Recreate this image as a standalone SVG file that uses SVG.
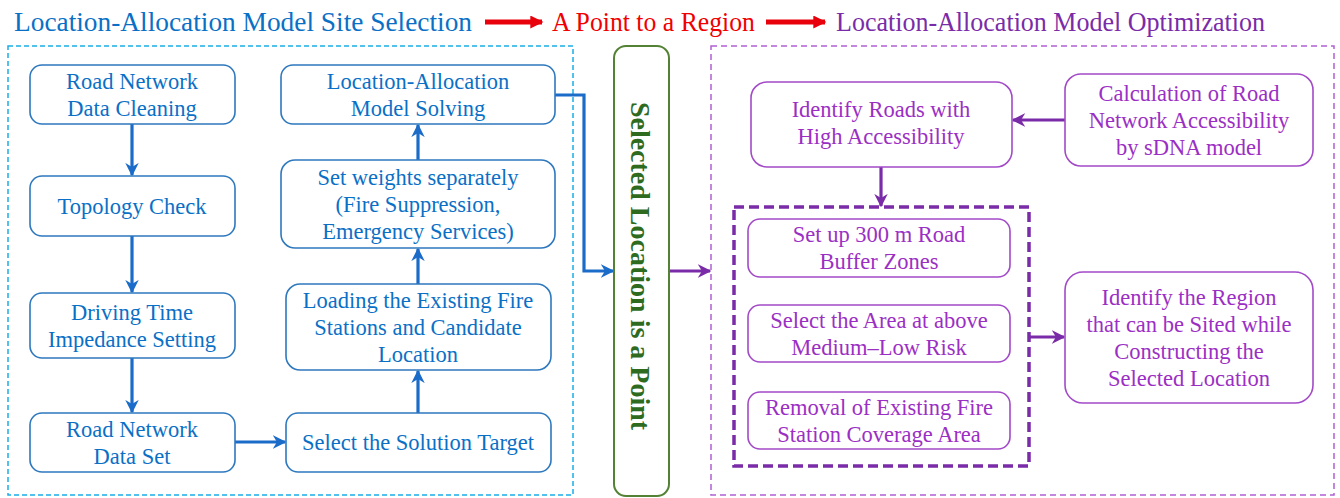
<svg xmlns="http://www.w3.org/2000/svg" width="1340" height="498" viewBox="0 0 1340 498" font-family="'Liberation Serif', serif">
<style>
text{font-family:'Liberation Serif',serif;}
.title{font-size:26.5px;}
.bt{font-size:22.5px;fill:#0A70C6;text-anchor:middle;}
.pt{font-size:22.5px;fill:#9B2FC4;text-anchor:middle;}
.bbox{fill:#fff;stroke:#2E78BE;stroke-width:1.6;}
.pbox{fill:#fff;stroke:#A24AC8;stroke-width:1.6;}
.barrow{fill:none;stroke:#1B6CC8;stroke-width:3.2;}
.parrow{fill:none;stroke:#7A2BA8;stroke-width:3.2;}
</style>
<defs>
<marker id="ab" viewBox="0 0 10 10" refX="9" refY="5" markerWidth="4.2" markerHeight="4.2" orient="auto" markerUnits="strokeWidth">
<path d="M0,0 L10,5 L0,10 L3,5 Z" fill="#1B6CC8"/>
</marker>
<marker id="ap" viewBox="0 0 10 10" refX="9" refY="5" markerWidth="4.2" markerHeight="4.2" orient="auto" markerUnits="strokeWidth">
<path d="M0,0 L10,5 L0,10 L3,5 Z" fill="#7A2BA8"/>
</marker>
<marker id="ar" viewBox="0 0 10 10" refX="9" refY="5" markerWidth="2.6" markerHeight="2.6" orient="auto" markerUnits="strokeWidth">
<path d="M0,0 L10,5 L0,10 Z" fill="#E8000B"/>
</marker>
</defs>
<rect width="1340" height="498" fill="#fff"/>

<g id="titles">
<text class="title" x="14" y="31" fill="#0A70C6" textLength="458" lengthAdjust="spacingAndGlyphs">Location-Allocation Model Site Selection</text>
<text class="title" x="552" y="31" fill="#F00000" textLength="203" lengthAdjust="spacingAndGlyphs">A Point to a Region</text>
<text class="title" x="836" y="31" fill="#7A2BA8" textLength="429" lengthAdjust="spacingAndGlyphs">Location-Allocation Model Optimization</text>
</g>

<g id="frames">
<rect x="8" y="46" width="565" height="449" fill="none" stroke="#1AAEE8" stroke-width="1.5" stroke-dasharray="5,3"/>
<rect x="711" y="46" width="623" height="449" fill="none" stroke="#B060D2" stroke-width="1.5" stroke-dasharray="6,4"/>
<rect x="734" y="207" width="295" height="259" fill="none" stroke="#7A2BA8" stroke-width="3.5" stroke-dasharray="10,5"/>
</g>

<g id="connectors">
<line x1="485" y1="22" x2="542" y2="22" stroke="#E8000B" stroke-width="5" marker-end="url(#ar)"/>
<line x1="766" y1="22" x2="825" y2="22" stroke="#E8000B" stroke-width="5" marker-end="url(#ar)"/>
<line class="barrow" x1="132" y1="124" x2="132" y2="175" marker-end="url(#ab)"/>
<line class="barrow" x1="132" y1="236" x2="132" y2="292" marker-end="url(#ab)"/>
<line class="barrow" x1="132" y1="358" x2="132" y2="412" marker-end="url(#ab)"/>
<line class="barrow" x1="235" y1="442" x2="285" y2="442" marker-end="url(#ab)"/>
<line class="barrow" x1="418" y1="413" x2="418" y2="371" marker-end="url(#ab)"/>
<line class="barrow" x1="418" y1="284" x2="418" y2="249" marker-end="url(#ab)"/>
<line class="barrow" x1="418" y1="160" x2="418" y2="125" marker-end="url(#ab)"/>
<polyline class="barrow" points="555,95 584,95 584,271 613,271" marker-end="url(#ab)"/>
<line class="parrow" x1="669" y1="271" x2="710" y2="271" marker-end="url(#ap)"/>
<line class="parrow" x1="1065" y1="120" x2="1013" y2="120" marker-end="url(#ap)"/>
<line class="parrow" x1="881" y1="167" x2="881" y2="206" marker-end="url(#ap)"/>
<line class="parrow" x1="1030" y1="337" x2="1064" y2="337" marker-end="url(#ap)"/>
</g>

<g id="n1"><rect class="bbox" x="30" y="65" width="205" height="59" rx="12"/>
<text class="bt" x="132" y="89">Road Network</text><text class="bt" x="132" y="115.5">Data Cleaning</text></g>
<g id="n2"><rect class="bbox" x="30" y="176" width="205" height="60" rx="12"/>
<text class="bt" x="132" y="213.5">Topology Check</text></g>
<g id="n3"><rect class="bbox" x="30" y="293" width="205" height="65" rx="12"/>
<text class="bt" x="132" y="320">Driving Time</text><text class="bt" x="132" y="347">Impedance Setting</text></g>
<g id="n4"><rect class="bbox" x="30" y="413" width="205" height="59" rx="12"/>
<text class="bt" x="132" y="436.5">Road Network</text><text class="bt" x="132" y="463.5">Data Set</text></g>
<g id="n5"><rect class="bbox" x="286" y="413" width="265" height="59" rx="12"/>
<text class="bt" x="418" y="450">Select the Solution Target</text></g>
<g id="n6"><rect class="bbox" x="286" y="284" width="265" height="86" rx="14"/>
<text class="bt" x="418" y="308">Loading the Existing Fire</text><text class="bt" x="418" y="335">Stations and Candidate</text><text class="bt" x="418" y="362">Location</text></g>
<g id="n7"><rect class="bbox" x="281" y="160" width="274" height="88" rx="14"/>
<text class="bt" x="418" y="185">Set weights separately</text><text class="bt" x="418" y="212">(Fire Suppression,</text><text class="bt" x="418" y="239">Emergency Services)</text></g>
<g id="n8"><rect class="bbox" x="281" y="65" width="274" height="59" rx="12"/>
<text class="bt" x="418" y="89">Location-Allocation</text><text class="bt" x="418" y="115.5">Model Solving</text></g>

<g id="point"><rect x="614" y="46" width="55" height="450" rx="12" fill="#fff" stroke="#548235" stroke-width="2"/>
<text transform="translate(631,266) rotate(90)" text-anchor="middle" font-size="28" font-weight="bold" fill="#2E6B1F">Selected Location is a Point</text></g>

<g id="n9"><rect class="pbox" x="751" y="82" width="261" height="85" rx="16"/>
<text class="pt" x="881" y="117">Identify Roads with</text><text class="pt" x="881" y="144">High Accessibility</text></g>
<g id="n10"><rect class="pbox" x="1065" y="74" width="248" height="92" rx="16"/>
<text class="pt" x="1189" y="101">Calculation of Road</text><text class="pt" x="1189" y="128">Network Accessibility</text><text class="pt" x="1189" y="155">by sDNA model</text></g>
<g id="n11"><rect class="pbox" x="748" y="219" width="262" height="58" rx="12"/>
<text class="pt" x="879" y="242">Set up 300 m Road</text><text class="pt" x="879" y="269">Buffer Zones</text></g>
<g id="n12"><rect class="pbox" x="748" y="305" width="262" height="57" rx="12"/>
<text class="pt" x="879" y="327.5">Select the Area at above</text><text class="pt" x="879" y="354.5">Medium–Low Risk</text></g>
<g id="n13"><rect class="pbox" x="748" y="392" width="262" height="57" rx="12"/>
<text class="pt" x="879" y="414.5">Removal of Existing Fire</text><text class="pt" x="879" y="441.5">Station Coverage Area</text></g>
<g id="n14"><rect class="pbox" x="1065" y="272" width="248" height="131" rx="18"/>
<text class="pt" x="1189" y="305">Identify the Region</text><text class="pt" x="1189" y="332">that can be Sited while</text><text class="pt" x="1189" y="359">Constructing the</text><text class="pt" x="1189" y="386">Selected Location</text></g>
</svg>
